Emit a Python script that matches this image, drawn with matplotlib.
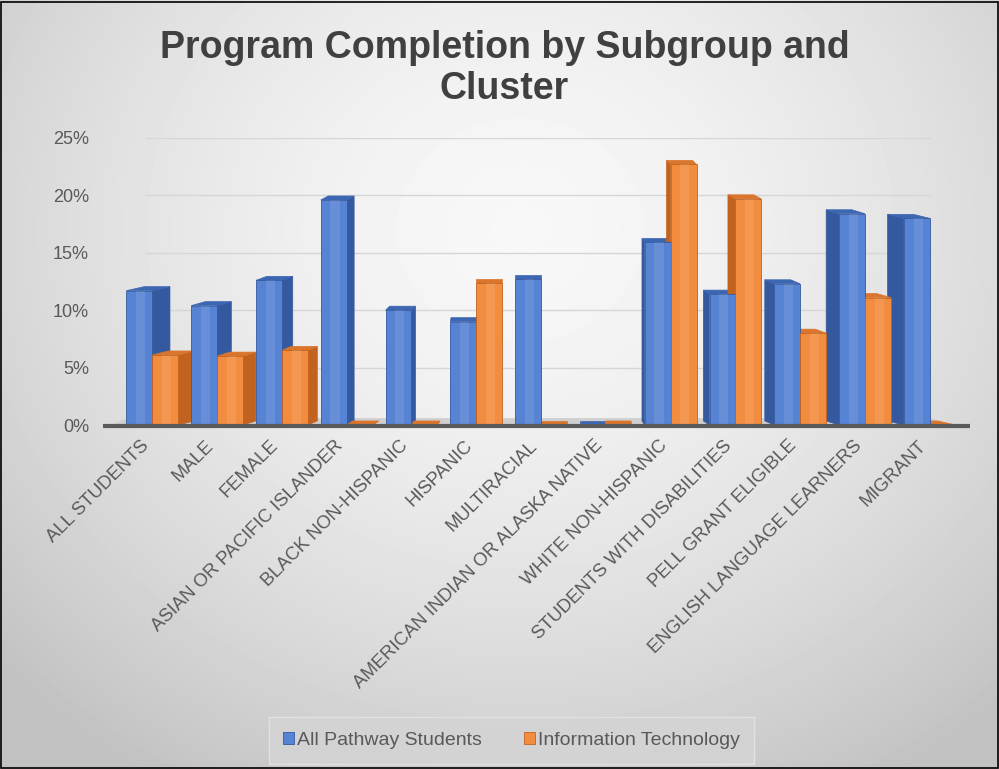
import numpy as np
import matplotlib.pyplot as plt
import matplotlib.transforms as mtransforms
from matplotlib.patches import Polygon
from matplotlib.ticker import PercentFormatter

plt.rcParams['font.family'] = ['Liberation Sans', 'DejaVu Sans']

# Subgroups along the x axis
categories = ['ALL STUDENTS', 'MALE', 'FEMALE', 'ASIAN OR PACIFIC ISLANDER',
              'BLACK NON-HISPANIC', 'HISPANIC', 'MULTIRACIAL',
              'AMERICAN INDIAN OR ALASKA NATIVE', 'WHITE NON-HISPANIC',
              'STUDENTS WITH DISABILITIES', 'PELL GRANT ELIGIBLE',
              'ENGLISH LANGUAGE LEARNERS', 'MIGRANT']
# completion rates (fraction)
all_pathway = [0.117, 0.104, 0.126, 0.196, 0.100, 0.090, 0.127, 0.0,
               0.159, 0.114, 0.123, 0.184, 0.180]
info_tech = [0.061, 0.060, 0.065, 0.0, 0.0, 0.124, 0.0, 0.0,
             0.227, 0.197, 0.080, 0.111, 0.0]
series_names = ['All Pathway Students', 'Information Technology']

W, H = 999, 769
fig = plt.figure(figsize=(W / 100, H / 100), dpi=100)

# soft radial grey background
bg = fig.add_axes([0, 0, 1, 1], zorder=-5)
yy, xx = np.mgrid[0:H, 0:W]
r = np.sqrt(((xx - 520) / 620.0) ** 2 + ((yy - 230) / 560.0) ** 2)
shade = np.clip(0.97 - 0.17 * r ** 1.6, 0.76, 0.97)
bg.imshow(shade, cmap='gray', vmin=0, vmax=1, aspect='auto', extent=[0, 1, 0, 1])
bg.set_axis_off()
bg.add_patch(plt.Rectangle((0.001, 0.001), 0.998, 0.997, fill=False,
                           ec='black', lw=1.2, transform=bg.transAxes))

x0, x1 = 103, 970
ax = fig.add_axes([x0 / W, (H - 425) / H, (x1 - x0) / W, (425 - 138) / H])
ax.patch.set_alpha(0)
xmin, xmax = -0.76, 12.62
ax.set_xlim(xmin, xmax)
ax.set_ylim(0, 0.25)
for s in ax.spines.values():
    s.set_visible(False)

# gridlines on the back wall
for g in [0.05, 0.10, 0.15, 0.20, 0.25]:
    ax.plot([-0.1, 12.0], [g, g], color='#d6d6d6', lw=1.0, zorder=0)

# floor and base line
ax.add_patch(Polygon([(xmin + 0.1, 0), (xmax - 0.3, 0), (xmax - 0.6, 0.006),
                      (xmin + 0.4, 0.006)], closed=True, fc='#cfcfcf', ec='none', zorder=1))
ax.plot([xmin, xmax], [-0.0012, -0.0012], color='#5a5a5a', lw=3, zorder=6,
        clip_on=False, solid_capstyle='butt')

w = 0.40
rise = 0.0035
colors = [('#5683d4', '#35599e', '#3d66b2'), ('#f28c3e', '#c2621f', '#d9752c')]


def side_depth(x):
    # perspective: side faces show to the right on the left half, to the left on the right half
    if x < 5:
        return 0.0525 * (5 - x)
    if x > 7:
        return 0.0525 * (7 - x)
    return 0.0


def draw_bar(x, h, front, side, top, label=None):
    d = side_depth(x)
    xe = x + w / 2 if d >= 0 else x - w / 2
    if d != 0:
        ax.add_patch(Polygon([(xe, 0), (xe, h), (xe + d, h + rise), (xe + d, rise)],
                             closed=True, fc=side, ec=side, lw=0.5, zorder=3))
    ax.add_patch(Polygon([(x - w / 2, h), (x + w / 2, h), (x + w / 2 + d, h + rise),
                          (x - w / 2 + d, h + rise)],
                         closed=True, fc=top, ec=top, lw=0.5, zorder=3))
    ax.bar(x, h, w, color=front, edgecolor=side, linewidth=0.6, zorder=4, label=label)
    # lighter stripe for a rounded look
    if h > 0:
        ax.bar(x + 0.02, h, w * 0.35, color='white', alpha=0.10, lw=0, zorder=4)


idx = np.arange(len(categories))
for k, (vals, off) in enumerate([(all_pathway, -0.2), (info_tech, 0.2)]):
    front, side, top = colors[k]
    for i, v in zip(idx, vals):
        draw_bar(i + off, v, front, side, top,
                 label=series_names[k] if i == 0 else None)

ax.set_yticks([0, 0.05, 0.10, 0.15, 0.20, 0.25])
ax.yaxis.set_major_formatter(PercentFormatter(1.0, decimals=0))
ax.set_xticks(idx)
ax.set_xticklabels(categories, rotation=45, ha='right', va='center',
                   rotation_mode='anchor')
ax.tick_params(axis='both', length=0, colors='#595959')
ax.tick_params(axis='x', pad=13, labelsize=13.3)
ax.tick_params(axis='y', pad=10, labelsize=13)
shift = mtransforms.ScaledTranslation(-6 / 100, 0, fig.dpi_scale_trans)
for lbl in ax.get_xticklabels():
    lbl.set_transform(lbl.get_transform() + shift)

fig.text(0.505, 0.911, 'Program Completion by Subgroup and\nCluster', ha='center',
         va='center', fontsize=27, fontweight='bold', color='#404040', linespacing=1.2)

handles, labels = ax.get_legend_handles_labels()
leg = fig.legend(handles, labels, loc='center', bbox_to_anchor=(0.512, 0.037), ncol=2,
                 frameon=True, fontsize=14, handlelength=0.55, handleheight=0.55,
                 handletextpad=0.15, columnspacing=2.2, borderpad=0.45)
leg.get_frame().set_facecolor('#d4d4d4')
leg.get_frame().set_edgecolor('#e6e6e6')
leg.get_frame().set_boxstyle('square', pad=0.3)
for t in leg.get_texts():
    t.set_color('#595959')

fig.savefig('out.png', dpi=100)
